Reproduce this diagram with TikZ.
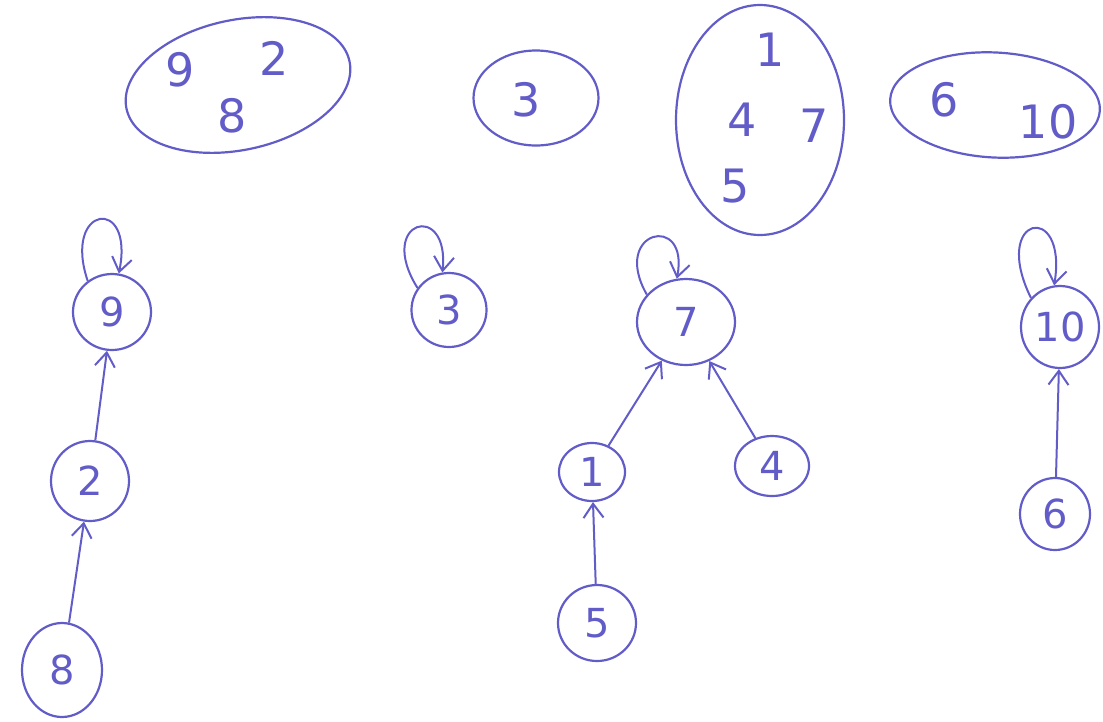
\documentclass[tikz,border=0pt]{standalone}
\usepackage{fontspec}
\setmainfont{DejaVu Sans}
\usetikzlibrary{shapes.geometric,arrows.meta}
\definecolor{ink}{RGB}{98,92,200}
\begin{document}
\begin{tikzpicture}[x=1pt,y=-1pt,
  every path/.style={line width=2.2pt},
  nd/.style={ellipse,draw=ink,line width=2.2pt,inner sep=0pt,text=ink,font=\fontsize{40}{40}\selectfont},
  setbox/.style={ellipse,draw=ink,line width=2.2pt,inner sep=0pt},
  lbl/.style={text=ink,inner sep=0pt,font=\fontsize{46}{46}\selectfont},
  edge/.style={draw=ink,line width=2pt,-{Straight Barb[length=14pt,width=20pt,line width=2pt]}},
]
\useasboundingbox (0,0) rectangle (1103,721);
% sets
\node[setbox,minimum width=228pt,minimum height=130pt,rotate=12] (s1) at (238,85) {};
\node[lbl] (l9) at (180,70) {9};
\node[lbl] (l8) at (232,116) {8};
\node[lbl] (l2) at (274,58) {2};
\node[setbox,minimum width=125pt,minimum height=95pt] (s2) at (536,98) {};
\node[lbl] (l3) at (526,100) {3};
\node[setbox,minimum width=168pt,minimum height=230pt] (s3) at (760,120) {};
\node[lbl] (l1) at (770,50) {1};
\node[lbl] (l4) at (742,120) {4};
\node[lbl] (l7) at (814,126) {7};
\node[lbl] (l5) at (735,186) {5};
\node[setbox,minimum width=210pt,minimum height=105pt,rotate=-3] (s4) at (995,105) {};
\node[lbl] (l6) at (944,100) {6};
\node[lbl] (l10) at (1048,122) {10};
% trees
\node[nd,minimum width=78pt,minimum height=76pt] (n9) at (112,312) {9};
\node[nd,minimum width=78pt,minimum height=80pt] (n2) at (90,481) {2};
\node[nd,minimum width=80pt,minimum height=94pt] (n8) at (62,670) {8};
\node[nd,minimum width=75pt,minimum height=74pt] (n3) at (449,310) {3};
\node[nd,minimum width=98pt,minimum height=86pt] (n7) at (686,322) {7};
\node[nd,minimum width=66pt,minimum height=58pt] (n1) at (592,472) {1};
\node[nd,minimum width=74pt,minimum height=60pt] (n4) at (772,466) {4};
\node[nd,minimum width=78pt,minimum height=76pt] (n5) at (597,623) {5};
\node[nd,minimum width=78pt,minimum height=82pt] (n10) at (1060,327) {10};
\node[nd,minimum width=70pt,minimum height=72pt] (n6) at (1055,514) {6};
% edges
\draw[edge] (n2) -- (n9);
\draw[edge] (n8) -- (n2);
\draw[edge] (n1) -- (n7);
\draw[edge] (n4) -- (n7);
\draw[edge] (n5) -- (n1);
\draw[edge] (n6) -- (n10);
% self loops
\draw[edge] (n9.128) .. controls (62,205) and (135,195) .. (n9.80);
\draw[edge] (n3.145) .. controls (375,220) and (450,200) .. (n3.100);
\draw[edge] (n7.145) .. controls (610,230) and (690,212) .. (n7.102);
\draw[edge] (n10.135) .. controls (990,215) and (1068,200) .. (n10.98);
\end{tikzpicture}
\end{document}
